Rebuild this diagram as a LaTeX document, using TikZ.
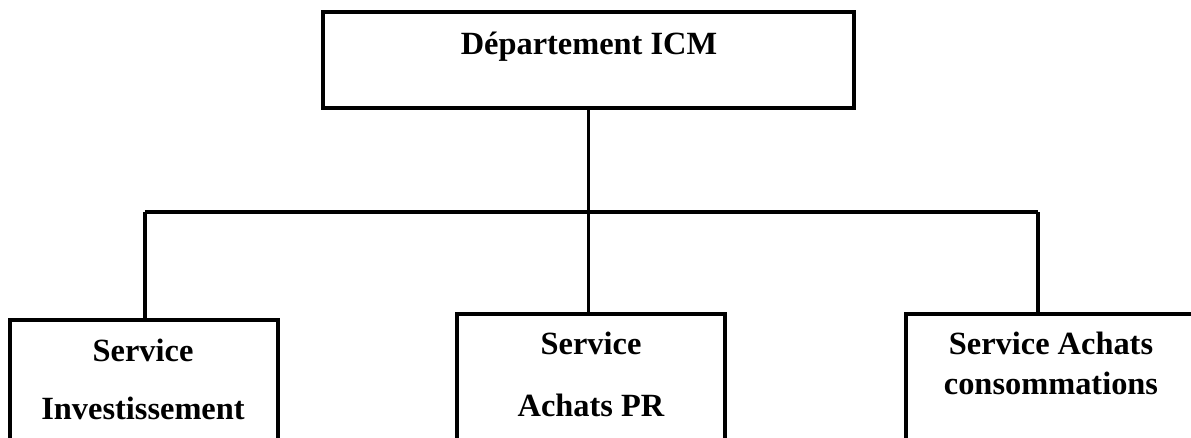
\documentclass[tikz,border=0pt]{standalone}
\usepackage{fontspec}
\setmainfont{Liberation Serif}
\begin{document}
\begin{tikzpicture}[x=0.5pt,y=-0.5pt,
  unit/.style={draw, line width=2pt, outer sep=0pt, inner sep=0pt},
  link/.style={line width=1.6pt},
  lbl/.style={font=\bfseries\fontsize{16.2}{16}\selectfont, anchor=base, inner sep=0pt}]
\useasboundingbox (0,0) rectangle (1191,438);
\clip (0,0) rectangle (1191,438);

% organisation units
\node[unit, minimum width=265.5pt, minimum height=48pt] (dep) at (588.5,60) {};
\node[unit, minimum width=134pt, minimum height=80pt] (s1) at (144,400) {};
\node[unit, minimum width=134pt, minimum height=83pt] (s2) at (591,397) {};
\node[unit, minimum width=144pt, minimum height=63.5pt] (s3) at (1050,377.5) {};

% labels
\node[lbl] (tdep) at (589,55) {Département ICM};
\node[lbl] (t1a) at (143,362) {Service};
\node[lbl] (t1b) at (143,420) {Investissement};
\node[lbl] (t2a) at (591,355) {Service};
\node[lbl] (t2b) at (591,417) {Achats PR};
\node[lbl] (t3a) at (1051,355) {Service Achats};
\node[lbl] (t3b) at (1051,395) {consommations};

% hierarchy connectors
\coordinate (busL) at (145,212);
\coordinate (busR) at (1038,212);
\draw[link] (busL) -- (busR);
\draw[link] (dep.south) -- (dep.south |- busL);
\draw[link] (busL) -- (busL |- s1.north);
\draw[link] (dep.south |- busL) -- (dep.south |- s2.north);
\draw[link] (busR) -- (busR |- s3.north);
\end{tikzpicture}
\end{document}
